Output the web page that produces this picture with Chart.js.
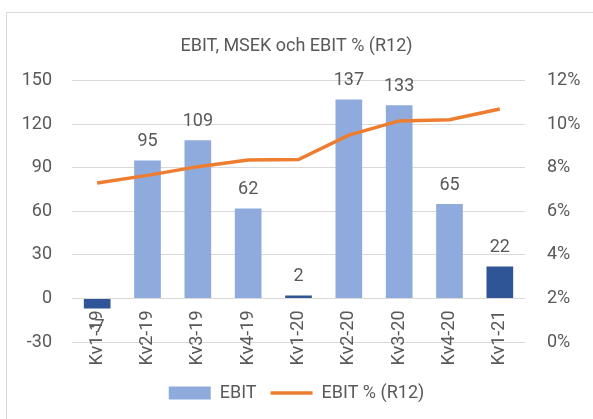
<!DOCTYPE html>
<html>
<head>
<meta charset="utf-8">
<script src="https://cdn.jsdelivr.net/npm/chart.js@4/dist/chart.umd.min.js"></script>
<style>
    body { margin: 0; background: #ffffff; }
    #frame { position: absolute; left: 6px; top: 12px; width: 600px; height: 420px; border: 1px solid #d9d9d9; }
    #wrap { position: absolute; left: 0; top: 0; width: 593px; height: 419px; }
</style>
</head>
<body>
<div id="frame"></div>
<div id="wrap"><canvas id="myChart" width="593" height="419"></canvas></div>
<script>
const quarters = ['Kv1-19', 'Kv2-19', 'Kv3-19', 'Kv4-19', 'Kv1-20', 'Kv2-20', 'Kv3-20', 'Kv4-20', 'Kv1-21'];
const ebit = [-7, 95, 109, 62, 2, 137, 133, 65, 22];
const ebitPct = [7.3, 7.65, 8.05, 8.35, 8.38, 9.5, 10.15, 10.2, 10.7];
const darkBars = [0, 4, 8];   // Kv1 quarters drawn in dark blue

const lightBlue = '#8FAADC';
const darkBlue = '#2F5597';
const orange = '#ED7D31';
const textGrey = '#595959';

Chart.defaults.font.family = 'Roboto, "DejaVu Sans", sans-serif';
Chart.defaults.font.size = 18;
Chart.defaults.color = textGrey;

// bar value labels, above positive bars and below negative ones
const barLabels = {
    id: 'barLabels',
    afterDatasetsDraw(chart) {
        const c = chart.ctx;
        const meta = chart.getDatasetMeta(0);
        c.save();
        c.font = '18px Roboto, "DejaVu Sans", sans-serif';
        c.fillStyle = textGrey;
        c.textAlign = 'center';
        c.textBaseline = 'middle';
        meta.data.forEach((bar, i) => {
            const v = ebit[i];
            const y = v < 0 ? bar.y + 19 : bar.y - 19;
            c.fillText(String(v), bar.x, y);
        });
        c.restore();
    }
};

const baseLabels = Chart.defaults.plugins.legend.labels.generateLabels;

new Chart(document.getElementById('myChart'), {
    data: {
        labels: quarters,
        datasets: [{
            type: 'bar',
            label: 'EBIT',
            data: ebit,
            backgroundColor: ebit.map((v, i) => darkBars.includes(i) ? darkBlue : lightBlue),
            barPercentage: 0.53,
            categoryPercentage: 1,
            yAxisID: 'y',
            order: 2
        }, {
            type: 'line',
            label: 'EBIT % (R12)',
            data: ebitPct,
            borderColor: orange,
            backgroundColor: orange,
            borderWidth: 3.5,
            pointRadius: 0,
            tension: 0,
            yAxisID: 'y1',
            order: 1
        }]
    },
    options: {
        responsive: false,
        animation: false,
        layout: { padding: { top: 36, bottom: 7 } },
        plugins: {
            title: {
                display: true,
                text: 'EBIT, MSEK och EBIT % (R12)',
                font: { size: 18, weight: 'normal' },
                color: textGrey,
                padding: { top: 0, bottom: 23 }
            },
            legend: {
                position: 'bottom',
                title: { display: true, text: ' ', font: { size: 10 }, padding: 8 },
                labels: {
                    usePointStyle: true,
                    pointStyleWidth: 42,
                    boxHeight: 13,
                    padding: 14,
                    color: textGrey,
                    generateLabels(chart) {
                        const items = baseLabels(chart);
                        items.sort((a, b) => a.datasetIndex - b.datasetIndex);
                        items.forEach(item => {
                            if (item.datasetIndex === 0) {
                                item.fillStyle = lightBlue;
                                item.strokeStyle = lightBlue;
                                item.lineWidth = 0;
                                item.pointStyle = 'rect';
                            } else {
                                item.strokeStyle = orange;
                                item.lineWidth = 3.5;
                                item.pointStyle = 'line';
                            }
                        });
                        return items;
                    }
                }
            },
            tooltip: { enabled: false }
        },
        scales: {
            x: {
                position: { y: 0 },
                grid: { display: false },
                border: { display: false },
                ticks: { minRotation: 90, maxRotation: 90, padding: 4 }
            },
            y: {
                position: 'left',
                min: -30,
                max: 150,
                ticks: { stepSize: 30, padding: 20 },
                grid: { color: '#d9d9d9', drawTicks: false },
                border: { display: false },
                afterFit(scale) { scale.width = 72; }
            },
            y1: {
                position: 'right',
                min: 0,
                max: 12,
                ticks: { stepSize: 2, padding: 22, callback: v => v + '%' },
                grid: { display: false, drawTicks: false },
                border: { display: false },
                afterFit(scale) { scale.width = 68; }
            }
        }
    },
    plugins: [barLabels]
});
</script>
</body>
</html>
